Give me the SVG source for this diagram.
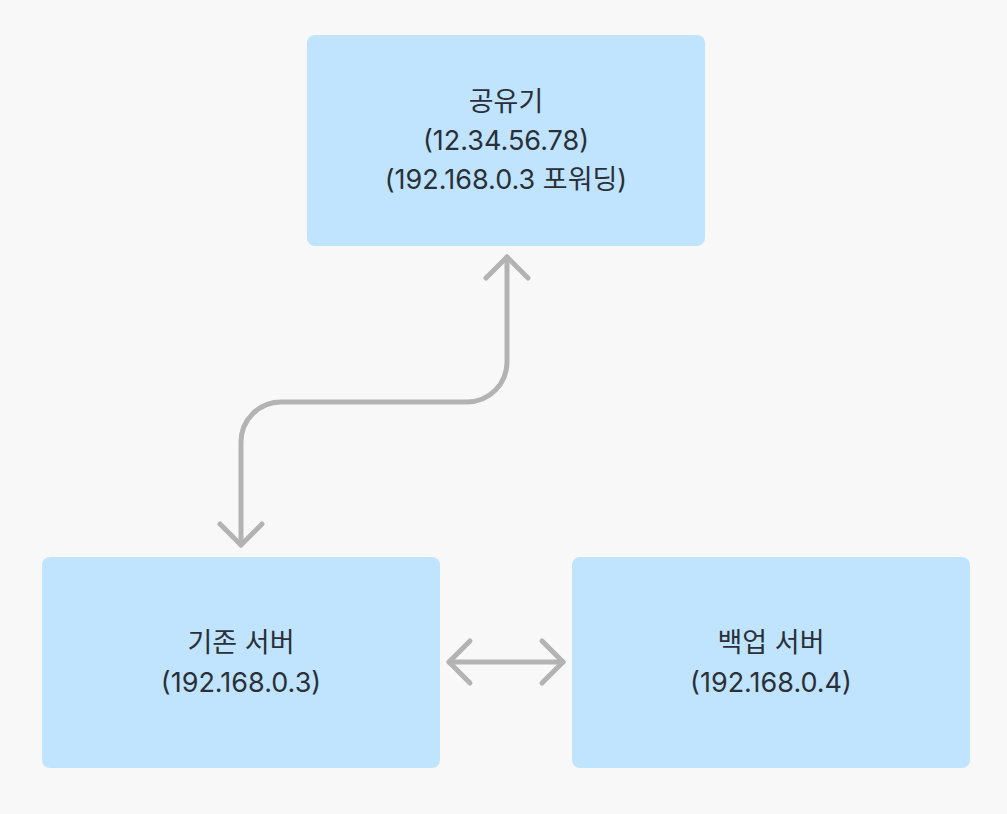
<svg xmlns="http://www.w3.org/2000/svg" width="1007" height="814" viewBox="0 0 1007 814">
<style>
.node{fill:#c1e4fe}
.t{font-family:Inter,"Noto Sans","Noto Sans CJK KR",sans-serif;font-size:27px;fill:#2a3038;text-anchor:middle}
.c{fill:none;stroke:#b3b3b3;stroke-width:5;stroke-linecap:round;stroke-linejoin:round}
</style>
<rect width="1007" height="814" fill="#f8f8f8"/>
<g id="router">
<rect class="node" x="307" y="35" width="398" height="211" rx="8"/>
<text class="t" x="506" y="111">공유기</text>
<text class="t" x="506" y="150">(12.34.56.78)</text>
<text class="t" x="506" y="189">(192.168.0.3 포워딩)</text>
</g>
<g id="old-server">
<rect class="node" x="42" y="557" width="398" height="211" rx="8"/>
<text class="t" x="241" y="652">기존 서버</text>
<text class="t" x="241" y="692">(192.168.0.3)</text>
</g>
<g id="backup-server">
<rect class="node" x="572" y="557" width="398" height="211" rx="8"/>
<text class="t" x="771" y="652">백업 서버</text>
<text class="t" x="771" y="692">(192.168.0.4)</text>
</g>
<g id="connectors">
<path class="c" d="M507 257 V362 A40 40 0 0 1 467 402 H281 A40 40 0 0 0 241 442 V545"/>
<path class="c" d="M486 278 L507 257 L528 278"/>
<path class="c" d="M220 524 L241 545 L262 524"/>
<path class="c" d="M449 662 H563"/>
<path class="c" d="M470 641 L449 662 L470 683"/>
<path class="c" d="M542 641 L563 662 L542 683"/>
</g>
</svg>
